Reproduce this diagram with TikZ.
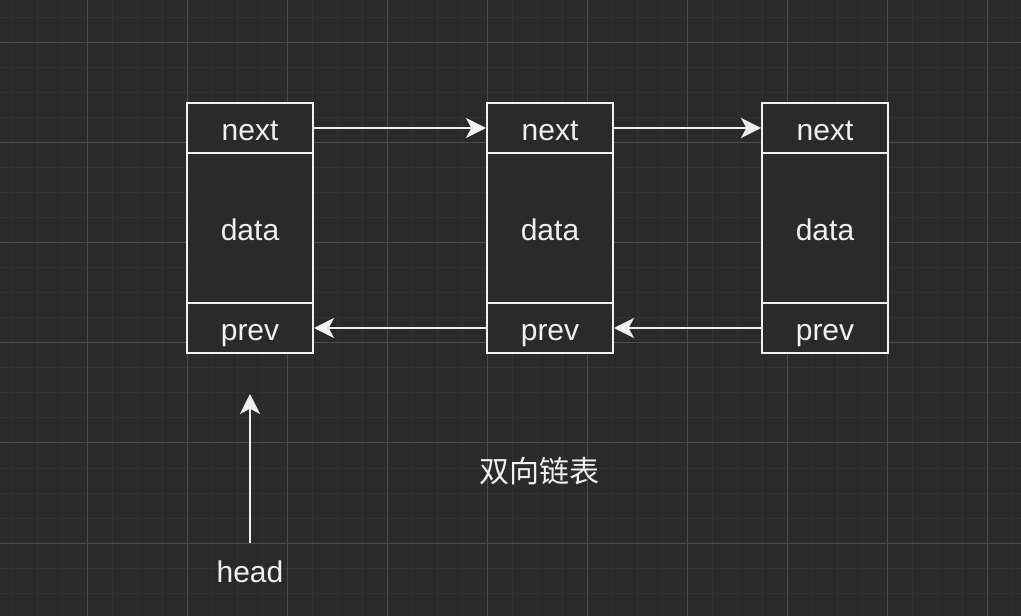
\documentclass[tikz,border=0pt]{standalone}
\usepackage{fontspec}
\setmainfont{Liberation Sans}
\newfontfamily\cjk{Noto Sans CJK SC}
\usetikzlibrary{positioning, arrows.meta}

\definecolor{bgdark}{HTML}{2A2A2A}
\definecolor{gridminor}{HTML}{323232}
\definecolor{gridmajor}{HTML}{4C4C4C}
\definecolor{linewhite}{HTML}{F0F0F0}

\begin{document}
\begin{tikzpicture}[
      x=0.75pt,y=-0.75pt,
      >={Stealth[length=15pt,width=15pt,inset=4pt]},
      font=\fontsize{22.5}{27}\selectfont,
      cell/.style={rectangle,draw=linewhite,line width=1.5pt,fill=bgdark,
        text=linewhite,minimum width=94.5pt,inner sep=0pt,
        text height=19pt,text depth=0pt},
      small cell/.style={cell,minimum height=37.5pt},
      big cell/.style={cell,minimum height=112.5pt},
      link/.style={->,draw=linewhite,line width=1.5pt}
    ]
    \useasboundingbox (0,0) rectangle (1021,616);
    % background and grid
    \fill[bgdark] (-10,-10) rectangle (1031,626);
    \foreach \gx in {12,37,...,1012} \draw[gridminor,line width=0.75pt] (\gx,-10) -- (\gx,626);
    \foreach \gy in {18,43,...,610} \draw[gridminor,line width=0.75pt] (-10,\gy) -- (1031,\gy);
    \foreach \gx in {87,187,...,987} \draw[gridmajor,line width=0.75pt] (\gx,-10) -- (\gx,626);
    \foreach \gy in {43,143,...,543} \draw[gridmajor,line width=0.75pt] (-10,\gy) -- (1031,\gy);

    % three list nodes
    \node[small cell] (next1) at (250,128) {next};
    \node[big cell]   (data1) at (250,228) {data};
    \node[small cell] (prev1) at (250,328) {prev};
    \node[small cell] (next2) at (550,128) {next};
    \node[big cell]   (data2) at (550,228) {data};
    \node[small cell] (prev2) at (550,328) {prev};
    \node[small cell] (next3) at (825,128) {next};
    \node[big cell]   (data3) at (825,228) {data};
    \node[small cell] (prev3) at (825,328) {prev};

    \node[text=linewhite,anchor=north,inner ysep=10.25pt,text height=19pt,text depth=0pt] (head) at (250,543) {head};
    \coordinate (headtip) at (250,394);
    \node[text=linewhite,font=\cjk\fontsize{22.5}{27}\selectfont] (title) at (539,471) {双向链表};

    \draw[link] (next1.east) -- (next2.west);
    \draw[link] (next2.east) -- (next3.west);
    \draw[link] (prev2.west) -- (prev1.east);
    \draw[link] (prev3.west) -- (prev2.east);
    \draw[link] (head.north) -- (headtip);
  \end{tikzpicture}
\end{document}
